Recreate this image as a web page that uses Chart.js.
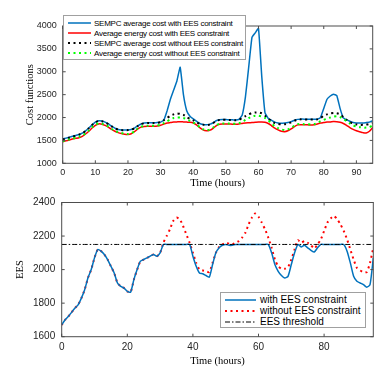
<!DOCTYPE html>
<html>
<head>
<meta charset="utf-8">
<script src="https://cdn.jsdelivr.net/npm/chart.js@4.4.1/dist/chart.umd.min.js"></script>
<style>
  body { margin: 0; background: #fff; }
  #wrap { position: relative; width: 390px; height: 382px; }
  .pane { position: absolute; left: 0; width: 390px; }
  .legend { position: absolute; background: #fff; border: 1px solid #a0a0a0; box-sizing: border-box;
            font-family: "Liberation Sans", Arial, sans-serif; color: #000; }
  .legend .row { display: flex; align-items: center; white-space: nowrap; }
  .legend svg { flex: none; }
</style>
</head>
<body>
<div id="wrap">
  <div class="pane" style="top:0;height:190px"><canvas id="costChart"></canvas></div>
  <div class="pane" style="top:190px;height:192px"><canvas id="eesChart"></canvas></div>
  <div class="legend" id="costLegend" style="left:63px;top:15px;width:183px;height:45px;padding-top:2px;font-size:8px;letter-spacing:-0.25px"></div>
  <div class="legend" id="eesLegend" style="left:220px;top:292px;width:146px;height:36px;padding-top:1px;font-size:10px"></div>
</div>
<script>
const hours = [0,1,2,3,4,5,6,7,8,9,10,11,12,13,14,15,16,17,18,19,20,21,22,23,24,25,26,27,28,29,
  30,31,32,33,34,35,36,37,38,39,40,41,42,43,44,45,46,47,48,49,50,51,52,53,54,55,56,57,58,59,
  60,61,62,63,64,65,66,67,68,69,70,71,72,73,74,75,76,77,78,79,80,81,82,83,84,85,86,87,88,89,
  90,91,92,93,94,95];

// top panel: cost functions
const sempcWith = [1530,1550,1570,1590,1610,1630,1660,1710,1770,1840,
  1900,1930,1925,1900,1860,1810,1770,1740,1730,1730,
  1730,1740,1770,1820,1860,1880,1885,1885,1885,1890,
  1900,1950,2150,2400,2600,2800,3100,2500,2150,2030,
  1970,1920,1870,1850,1840,1850,1880,1930,1950,1955,
  1955,1950,1950,1945,1960,2050,2450,3100,3750,3850,
  3950,2900,2100,1980,1940,1900,1880,1875,1880,1890,
  1910,1940,1960,1965,1965,1960,1960,1960,1965,2000,
  2200,2400,2470,2510,2480,2200,1990,1950,1920,1890,
  1880,1880,1880,1890,1900,1930];
const energyWith = [1470,1490,1510,1530,1545,1560,1590,1640,1700,1770,
  1830,1860,1855,1830,1790,1740,1700,1670,1650,1635,
  1630,1645,1690,1750,1790,1805,1810,1810,1810,1815,
  1830,1860,1880,1890,1900,1905,1910,1905,1900,1895,
  1880,1840,1780,1730,1710,1720,1760,1820,1855,1860,
  1860,1860,1855,1855,1860,1870,1880,1885,1890,1895,
  1900,1900,1895,1870,1820,1770,1730,1700,1690,1710,
  1750,1800,1840,1845,1840,1840,1835,1840,1860,1880,
  1890,1900,1905,1915,1910,1895,1870,1830,1780,1740,
  1710,1690,1670,1660,1700,1780];
const sempcWithout = [1520,1540,1560,1580,1600,1625,1655,1705,1765,1835,
  1895,1925,1920,1895,1855,1805,1765,1735,1725,1725,
  1725,1735,1765,1815,1855,1875,1880,1880,1880,1885,
  1900,1940,1990,2040,2070,2090,2080,2060,2010,1970,
  1940,1900,1860,1845,1835,1845,1875,1925,1945,1950,
  1950,1945,1945,1940,1950,1990,2030,2070,2100,2110,
  2110,2090,2040,1980,1920,1880,1860,1850,1855,1870,
  1895,1930,1955,1960,1960,1955,1955,1955,1960,1990,
  2040,2070,2090,2100,2095,2070,2010,1950,1900,1870,
  1850,1840,1840,1845,1860,1880];
const energyWithout = [1480,1500,1520,1540,1555,1575,1605,1655,1715,1785,
  1840,1870,1865,1840,1800,1750,1710,1680,1660,1645,
  1640,1655,1700,1760,1800,1815,1820,1820,1820,1825,
  1845,1880,1920,1960,1990,2000,2000,1990,1960,1930,
  1890,1850,1790,1745,1725,1735,1775,1830,1865,1870,
  1870,1870,1865,1865,1875,1900,1950,1990,2020,2040,
  2040,2020,1990,1940,1870,1810,1770,1740,1725,1740,
  1775,1820,1855,1860,1855,1855,1850,1855,1880,1920,
  1950,1980,2000,2020,2030,2010,1970,1920,1870,1830,
  1800,1790,1780,1780,1790,1830];

// bottom panel: EES level
const eesWith = [1670,1700,1720,1745,1770,1790,1830,1880,1950,2000,
  2070,2120,2110,2090,2060,2020,1980,1920,1900,1890,
  1870,1865,1940,2000,2050,2060,2070,2080,2090,2080,
  2100,2150,2150,2150,2150,2150,2150,2150,2150,2150,
  2080,2020,1980,1975,1965,1955,2030,2100,2130,2145,
  2150,2145,2145,2150,2150,2150,2150,2150,2150,2150,
  2150,2150,2150,2150,2100,2030,1990,1965,1950,1960,
  2030,2100,2150,2135,2145,2130,2115,2105,2130,2150,
  2150,2150,2150,2150,2150,2150,2150,2110,2040,1960,
  1930,1920,1910,1895,1910,2070];
const eesWithout = [1670,1700,1720,1745,1770,1790,1830,1880,1950,2000,
  2070,2120,2110,2090,2060,2020,1980,1920,1900,1890,
  1870,1865,1940,2000,2050,2060,2070,2080,2090,2080,
  2100,2160,2200,2240,2290,2310,2300,2260,2210,2160,
  2100,2040,2000,1995,1990,1985,2040,2100,2135,2150,
  2160,2155,2150,2160,2170,2190,2220,2270,2310,2335,
  2315,2280,2240,2190,2130,2060,2020,2005,2005,2015,
  2060,2120,2175,2160,2170,2160,2145,2125,2150,2180,
  2230,2280,2305,2320,2300,2270,2230,2180,2120,2060,
  2010,1995,1985,1985,2040,2130];
const eesThreshold = 2150;

const xTicksTop = [0,10,20,30,40,50,60,70,80,90];
const yTicksTop = [1000,1500,2000,2500,3000,3500,4000];
const xTicksBottom = [0,20,40,60,80];
const yTicksBottom = [1600,1800,2000,2200,2400];

const BLUE = '#0072BD';
const pts = arr => arr.map((v, i) => ({ x: hours[i], y: v }));

// box around plot area with inward ticks, MATLAB style
const framePlugin = {
  id: 'frame',
  afterDatasetsDraw(chart) {
    const { ctx, chartArea: a, scales: { x, y } } = chart;
    ctx.save();
    ctx.strokeStyle = '#4d4d4d';
    ctx.lineWidth = 1;
    ctx.strokeRect(a.left, a.top, a.right - a.left, a.bottom - a.top);
    ctx.beginPath();
    x.ticks.forEach(t => {
      const p = x.getPixelForValue(t.value);
      ctx.moveTo(p, a.bottom); ctx.lineTo(p, a.bottom - 3);
      ctx.moveTo(p, a.top); ctx.lineTo(p, a.top + 3);
    });
    y.ticks.forEach(t => {
      const p = y.getPixelForValue(t.value);
      ctx.moveTo(a.left, p); ctx.lineTo(a.left + 3, p);
      ctx.moveTo(a.right, p); ctx.lineTo(a.right - 3, p);
    });
    ctx.stroke();
    ctx.restore();
  }
};

function axes(o) {
  return {
    x: {
      type: 'linear', min: 0, max: 95,
      grid: { display: false, drawTicks: false }, border: { display: false },
      afterBuildTicks: s => { s.ticks = o.xTicks.map(v => ({ value: v })); },
      afterFit: s => { s.height = o.xHeight; },
      ticks: { padding: o.xPad, autoSkip: false, maxRotation: 0, color: '#262626',
               callback: v => String(v),
               font: { family: 'Liberation Sans', size: o.tickSize } },
      title: { display: true, text: 'Time (hours)', color: '#000',
               font: { family: 'Liberation Serif', size: 10.5 }, padding: { top: 0, bottom: o.xTitlePad } }
    },
    y: {
      min: o.yMin, max: o.yMax,
      grid: { display: false, drawTicks: false }, border: { display: false },
      afterBuildTicks: s => { s.ticks = o.yTicks.map(v => ({ value: v })); },
      afterFit: s => { s.width = o.yWidth; },
      ticks: { padding: o.yPad, color: '#262626',
               callback: v => String(v),
               font: { family: 'Liberation Sans', size: o.tickSize } },
      title: { display: true, text: o.yTitle, color: '#000',
               font: { family: 'Liberation Serif', size: 10.5 }, padding: { top: o.yTitlePad, bottom: 0 } }
    }
  };
}

const common = {
  responsive: true,
  maintainAspectRatio: false,
  animation: false,
  plugins: { legend: { display: false }, tooltip: { enabled: false } },
  elements: { point: { radius: 0 }, line: { tension: 0.2 } }
};

new Chart(document.getElementById('costChart'), {
  type: 'line',
  data: {
    datasets: [
      { data: pts(energyWithout), borderColor: '#00ff00', borderWidth: 2, borderDash: [2, 3.5] },
      { data: pts(sempcWithout), borderColor: '#000', borderWidth: 2, borderDash: [2, 3.5] },
      { data: pts(energyWith), borderColor: '#ff0000', borderWidth: 1.5 },
      { data: pts(sempcWith), borderColor: BLUE, borderWidth: 1.5, tension: 0.1 }
    ]
  },
  options: Object.assign({}, common, {
    layout: { padding: { left: 0, right: 17.3, top: 26, bottom: 0 } },
    scales: axes({ xTicks: xTicksTop, yTicks: yTicksTop, yMin: 1000, yMax: 4000,
      xHeight: 26.7, xPad: 4, xTitlePad: 0, yWidth: 62.7, yPad: 6, yTitlePad: 24,
      tickSize: 9, yTitle: 'Cost functions' })
  }),
  plugins: [framePlugin]
});

new Chart(document.getElementById('eesChart'), {
  type: 'line',
  data: {
    datasets: [
      { data: hours.map(h => ({ x: h, y: eesThreshold })), borderColor: '#000', borderWidth: 1,
        borderDash: [5, 2, 1.5, 2], tension: 0 },
      { data: pts(eesWith), borderColor: BLUE, borderWidth: 1.5 },
      { data: pts(eesWithout), borderColor: '#ff0000', borderWidth: 2, borderDash: [2, 3.5] }
    ]
  },
  options: Object.assign({}, common, {
    layout: { padding: { left: 0, right: 16.7, top: 7.3, bottom: 0 } },
    scales: axes({ xTicks: xTicksBottom, yTicks: yTicksBottom, yMin: 1600, yMax: 2400,
      xHeight: 45.3, xPad: 5, xTitlePad: 14, yWidth: 61.7, yPad: 6.5, yTitlePad: 13.5,
      tickSize: 10, yTitle: 'EES' })
  }),
  plugins: [framePlugin]
});

function buildLegend(el, items, sampleW, gap, rowH) {
  items.forEach(it => {
    const row = document.createElement('div');
    row.className = 'row';
    row.style.height = rowH + 'px';
    row.innerHTML = '<svg width="' + (sampleW + gap + 4) + '" height="6">' +
      '<line x1="4" y1="3" x2="' + (sampleW + 4) + '" y2="3" stroke="' + it.color + '" stroke-width="' + it.w +
      '"' + (it.dash ? ' stroke-dasharray="' + it.dash + '"' : '') + '/></svg>';
    const span = document.createElement('span');
    span.textContent = it.label;
    row.appendChild(span);
    el.appendChild(row);
  });
}

buildLegend(document.getElementById('costLegend'), [
  { label: 'SEMPC average cost with EES constraint', color: BLUE, w: 1.5 },
  { label: 'Average energy cost with EES constraint', color: '#ff0000', w: 1.5 },
  { label: 'SEMPC average cost without EES constraint', color: '#000', w: 2, dash: '2 3.5' },
  { label: 'Average energy cost without EES constraint', color: '#00ff00', w: 2, dash: '2 3.5' }
], 23, 3, 10);

buildLegend(document.getElementById('eesLegend'), [
  { label: 'with EES constraint', color: BLUE, w: 1.5 },
  { label: 'without EES constraint', color: '#ff0000', w: 2, dash: '2 3.5' },
  { label: 'EES threshold', color: '#000', w: 1, dash: '5 2 1.5 2' }
], 31, 4, 11);
</script>
</body>
</html>
